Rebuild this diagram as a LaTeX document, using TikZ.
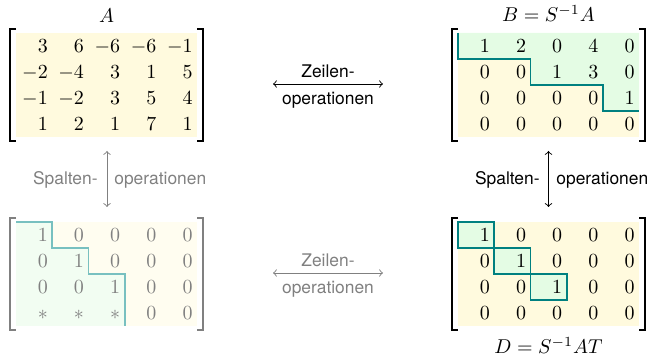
\documentclass[tikz,border=0pt]{standalone}
\usepackage{fontspec}
\setsansfont{TeX Gyre Heros}
\definecolor{fillY}{RGB}{255,250,222}
\definecolor{fillG}{RGB}{228,252,228}
\definecolor{fillYf}{RGB}{255,253,240}
\definecolor{fillGf}{RGB}{242,253,242}
\definecolor{stairC}{RGB}{0,128,128}
\definecolor{stairCf}{RGB}{120,192,192}
\definecolor{fadeC}{RGB}{128,128,128}
\tikzset{
  entry/.style={inner sep=0pt, anchor=base east},
  lbl/.style={inner sep=0pt, font=\sffamily\fontsize{8.7}{10}\selectfont},
  mlabel/.style={inner sep=0pt, anchor=base},
  brk/.style={line width=0.65pt},
  stair/.style={draw=stairC, line width=0.9pt},
  stairf/.style={draw=stairCf, line width=0.9pt},
  conn/.style={<->, line width=0.45pt},
}
\begin{document}
\begin{tikzpicture}[x=0.5pt,y=-0.5pt]
\useasboundingbox (0,0) rectangle (649,362);
% ---------- fills ----------
\fill[fillY] (16,33) rectangle (197,137);
\fill[fillY] (458,33) rectangle (639,137);
\fill[fillG] (458,33) -- (639,33) -- (639,111) -- (602.8,111) -- (602.8,85) -- (530.4,85) -- (530.4,59) -- (458,59) -- cycle;
\fill[fillYf] (16,222) rectangle (197,326);
\fill[fillGf] (16,222) -- (52.2,222) -- (52.2,248) -- (88.4,248) -- (88.4,274) -- (124.6,274) -- (124.6,326) -- (16,326) -- cycle;
\fill[fillY] (458,222) rectangle (639,326);
% ---------- staircases ----------
\draw[stair] (458,33) -- (458,59) -- (530.4,59) -- (530.4,85) -- (602.8,85) -- (602.8,111) -- (639,111);
\draw[stairf] (16,222) -- (52.2,222) -- (52.2,248) -- (88.4,248) -- (88.4,274) -- (124.6,274) -- (124.6,326);
\draw[stair, fill=fillG] (458,222) rectangle (494.2,248);
\draw[stair, fill=fillG] (494.2,248) rectangle (530.4,274);
\draw[stair, fill=fillG] (530.4,274) rectangle (566.6,300);
% ---------- entries ----------
\foreach \r [count=\i] in {{3,6,-6,-6,-1},{-2,-4,3,1,5},{-1,-2,3,5,4},{1,2,1,7,1}}{
  \foreach \v [count=\j] in \r {
    \node[entry] (A-\i-\j) at ({16+\j*36.2-4},{53+(\i-1)*26}) {$\v$};
  }
}
\foreach \r [count=\i] in {{1,2,0,4,0},{0,0,1,3,0},{0,0,0,0,1},{0,0,0,0,0}}{
  \foreach \v [count=\j] in \r {
    \node[entry] (B-\i-\j) at ({458+\j*36.2-4},{53+(\i-1)*26}) {$\v$};
  }
}
\foreach \r [count=\i] in {{1,0,0,0,0},{0,1,0,0,0},{0,0,1,0,0},{\ast,\ast,\ast,0,0}}{
  \foreach \v [count=\j] in \r {
    \node[entry, text=fadeC] (T-\i-\j) at ({16+\j*36.2-4},{242+(\i-1)*26}) {$\v$};
  }
}
\foreach \r [count=\i] in {{1,0,0,0,0},{0,1,0,0,0},{0,0,1,0,0},{0,0,0,0,0}}{
  \foreach \v [count=\j] in \r {
    \node[entry] (D-\i-\j) at ({458+\j*36.2-4},{242+(\i-1)*26}) {$\v$};
  }
}
% ---------- brackets ----------
\draw[brk] (16,29) -- (10,29) -- (10,141) -- (16,141);
\draw[brk] (197,29) -- (203,29) -- (203,141) -- (197,141);
\draw[brk] (458,29) -- (452,29) -- (452,141) -- (458,141);
\draw[brk] (639,29) -- (645,29) -- (645,141) -- (639,141);
\draw[brk, fadeC] (16,218) -- (10,218) -- (10,330) -- (16,330);
\draw[brk, fadeC] (197,218) -- (203,218) -- (203,330) -- (197,330);
\draw[brk] (458,218) -- (452,218) -- (452,330) -- (458,330);
\draw[brk] (639,218) -- (645,218) -- (645,330) -- (639,330);
% ---------- matrix labels ----------
\node[mlabel] (labA) at (106.5,23) {$A$};
\node[mlabel] (labB) at (548.5,22) {$B=S^{-1}A$};
\node[mlabel] (labD) at (548.5,354) {$D=S^{-1}AT$};
% ---------- connectors ----------
\coordinate (h1a) at (273,84);  \coordinate (h1b) at (383,84);
\coordinate (h2a) at (273,273); \coordinate (h2b) at (383,273);
\coordinate (v1a) at (107,151); \coordinate (v1b) at (107,207);
\coordinate (v2a) at (548.5,151); \coordinate (v2b) at (548.5,207);
\draw[conn] (h1a) -- (h1b);
\draw[conn, fadeC] (h2a) -- (h2b);
\draw[conn, fadeC] (v1a) -- (v1b);
\draw[conn] (v2a) -- (v2b);
\node[lbl, anchor=base] (z1) at (328,78) {Zeilen-};
\node[lbl, anchor=base] (o1) at (328,105) {operationen};
\node[lbl, anchor=base, text=fadeC] (z2) at (328,267) {Zeilen-};
\node[lbl, anchor=base, text=fadeC] (o2) at (328,294) {operationen};
\node[lbl, anchor=base east, text=fadeC] (s1) at (98,185) {Spalten-};
\node[lbl, anchor=base west, text=fadeC] (p1) at (114,185) {operationen};
\node[lbl, anchor=base east] (s2) at (540,185) {Spalten-};
\node[lbl, anchor=base west] (p2) at (556,185) {operationen};
\end{tikzpicture}
\end{document}
